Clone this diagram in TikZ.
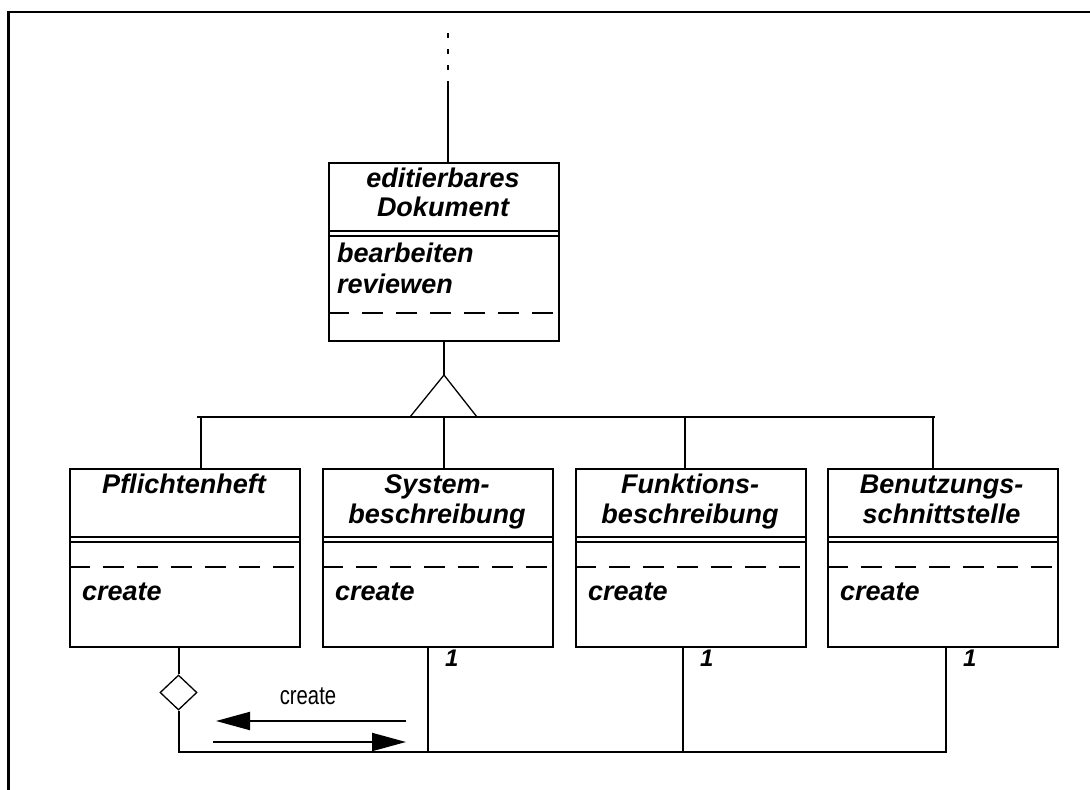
\documentclass[tikz,border=0pt]{standalone}
\usepackage{fontspec}
\setmainfont{Liberation Sans}
\newfontfamily\narrowsans[FakeStretch=0.78]{Liberation Sans}
\usetikzlibrary{arrows.meta,shapes.geometric}

\begin{document}
\begin{tikzpicture}[x=1pt,y=-1pt,
  classbox/.style={draw, line width=2pt, minimum width=230pt, anchor=north west, inner sep=0pt},
  cname/.style={font=\fontsize{27}{30}\selectfont\bfseries\itshape, anchor=base, inner sep=0pt},
  cop/.style={font=\fontsize{27}{30}\selectfont\bfseries\itshape, anchor=base west, inner sep=0pt},
  mult/.style={font=\fontsize{24}{26}\selectfont\bfseries\itshape, anchor=base west, inner sep=0pt},
  conn/.style={line width=2pt},
  thinline/.style={line width=1.3pt},
  compline/.style={line width=2pt},
  compdash/.style={line width=2pt, dash pattern=on 21pt off 13pt},
  msg/.style={line width=2pt, -{Triangle[length=34pt,width=18pt]}},
]
\useasboundingbox (0,0) rectangle (1090,790);

% frame
\coordinate (frBL) at (8.7,790);
\coordinate (frTL) at (8.7,12);
\coordinate (frTR) at (1090,12);
\draw[line width=2.6pt] (frBL) -- (frTL) -- (frTR);

% superclass
\node[classbox, minimum height=178pt] (ed) at (328,162) {};
\draw[compline] ([yshift=-69pt]ed.north west) -- ([yshift=-69pt]ed.north east);
\draw[compline] ([yshift=-74pt]ed.north west) -- ([yshift=-74pt]ed.north east);
\draw[compdash] ([yshift=-151pt]ed.north west) -- ([yshift=-151pt]ed.north east);
\node[cname] (edn1) at (443,187) {editierbares};
\node[cname] (edn2) at (443,216) {Dokument};
\node[cop] (edop1) at (337,262) {bearbeiten};
\node[cop] (edop2) at (337,293) {reviewen};

% link upwards
\coordinate (upfree) at (448,33);
\coordinate (upmid) at (448,81);
\draw[conn, dash pattern=on 5pt off 11pt] (upfree) -- (upmid);
\draw[conn] (upmid) -- (upmid |- ed.north);

% subclasses
\node[classbox, minimum height=178pt] (pf) at (69,468) {};
\node[classbox, minimum height=178pt] (sb) at (322,468) {};
\node[classbox, minimum height=178pt] (fb) at (575,468) {};
\node[classbox, minimum height=178pt] (bs) at (827,468) {};
\foreach \b in {pf,sb,fb,bs} {
  \draw[compline] ([yshift=-69pt]\b.north west) -- ([yshift=-69pt]\b.north east);
  \draw[compline] ([yshift=-74pt]\b.north west) -- ([yshift=-74pt]\b.north east);
  \draw[compdash] ([yshift=-99pt]\b.north west) -- ([yshift=-99pt]\b.north east);
}
\node[cname] (pfn) at (184,493) {Pflichtenheft};
\node[cname] (sbn1) at (437,493) {System-};
\node[cname] (sbn2) at (437,523) {beschreibung};
\node[cname] (fbn1) at (690,493) {Funktions-};
\node[cname] (fbn2) at (690,523) {beschreibung};
\node[cname] (bsn1) at (941.5,493) {Benutzungs-};
\node[cname] (bsn2) at (941.5,523) {schnittstelle};
\node[cop] (pfop) at (82,600) {create};
\node[cop] (sbop) at (335,600) {create};
\node[cop] (fbop) at (588,600) {create};
\node[cop] (bsop) at (840,600) {create};

% generalization
\coordinate (gapex) at (444,375);
\coordinate (gbl) at (410,417);
\coordinate (gbr) at (477,417);
\draw[conn] (ed.south -| gapex) -- (gapex);
\draw[thinline] (gapex) -- (gbl) -- (gbr) -- cycle;
\coordinate (busL) at (197,417);
\coordinate (busR) at (935,417);
\draw[conn] (busL) -- (busR);
\coordinate (d1) at (201,417);
\coordinate (d2) at (444,417);
\coordinate (d3) at (685,417);
\coordinate (d4) at (933,417);
\draw[conn] (d1) -- (d1 |- pf.north);
\draw[conn] (d2) -- (d2 |- sb.north);
\draw[conn] (d3) -- (d3 |- fb.north);
\draw[conn] (d4) -- (d4 |- bs.north);

% aggregation
\node[draw, thinline, diamond, minimum width=37pt, minimum height=35pt, inner sep=0pt] (dia) at (178.5,692.5) {};
\draw[conn] (pf.south -| dia.north) -- (dia.north);
\coordinate (corner) at (178.5,752);
\coordinate (sbdrop) at (428,752);
\coordinate (fbdrop) at (683,752);
\coordinate (bsdrop) at (946,752);
\draw[conn] (dia.south) -- (corner) -- (bsdrop) -- (bsdrop |- bs.south);
\draw[conn] (sbdrop) -- (sbdrop |- sb.south);
\draw[conn] (fbdrop) -- (fbdrop |- fb.south);
\node[mult] (m1) at (445,666) {1};
\node[mult] (m2) at (700,666) {1};
\node[mult] (m3) at (963,666) {1};

% create messages
\coordinate (ma) at (406,721);
\coordinate (mb) at (216,721);
\coordinate (mc) at (213,742);
\coordinate (md) at (406,742);
\draw[msg] (ma) -- (mb);
\draw[msg] (mc) -- (md);
\node[font=\narrowsans\fontsize{26}{28}\selectfont, anchor=base, inner sep=0pt] (msglbl) at (308,704) {create};
\end{tikzpicture}
\end{document}
